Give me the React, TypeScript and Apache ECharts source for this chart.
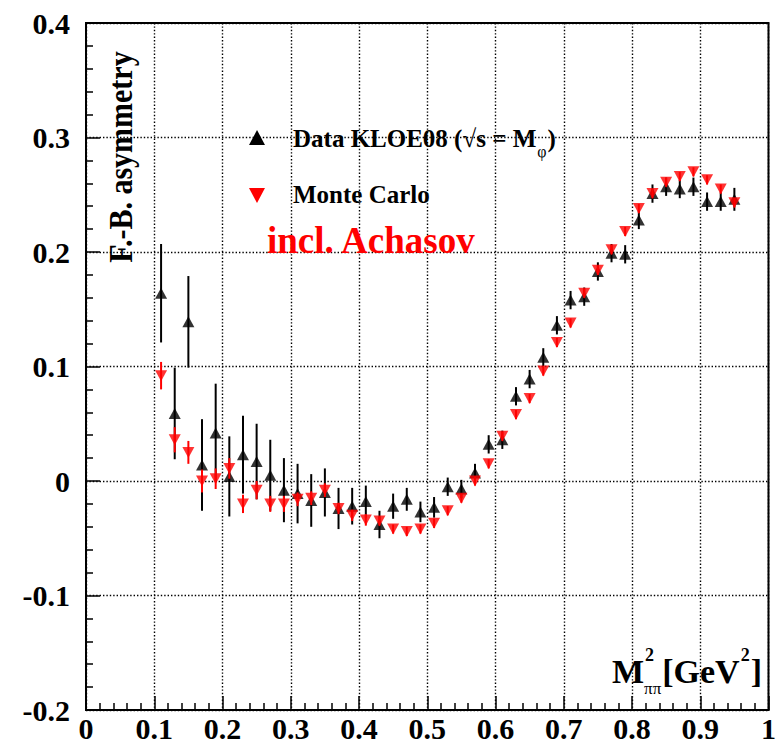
import React, { useEffect, useRef } from "react";
import * as echarts from "echarts";

const xValues = [
  0.11, 0.13, 0.15, 0.17, 0.19, 0.21, 0.23, 0.25, 0.27, 0.29, 0.31, 0.33, 0.35, 0.37, 0.39,
  0.41, 0.43, 0.45, 0.47, 0.49, 0.51, 0.53, 0.55, 0.57, 0.59, 0.61, 0.63, 0.65, 0.67, 0.69,
  0.71, 0.73, 0.75, 0.77, 0.79, 0.81, 0.83, 0.85, 0.87, 0.89, 0.91, 0.93, 0.95,
];

const dataValues = [
  0.164, 0.059, 0.139, 0.014, 0.042, 0.004, 0.023, 0.017, 0.005, -0.008, -0.011, -0.017, -0.010, -0.024, -0.022,
  -0.018, -0.038, -0.022, -0.016, -0.027, -0.023, -0.005, -0.007, 0.007, 0.032, 0.036, 0.074, 0.089, 0.108, 0.136,
  0.158, 0.161, 0.183, 0.199, 0.198, 0.228, 0.251, 0.257, 0.255, 0.257, 0.244, 0.244, 0.246,
];

const dataErrors = [
  0.043, 0.040, 0.040, 0.040, 0.043, 0.035, 0.034, 0.033, 0.031, 0.028, 0.026, 0.023, 0.021, 0.018, 0.016,
  0.014, 0.012, 0.011, 0.010, 0.009, 0.009, 0.008, 0.008, 0.008, 0.008, 0.008, 0.008, 0.008, 0.008, 0.008,
  0.008, 0.008, 0.008, 0.008, 0.008, 0.008, 0.008, 0.008, 0.008, 0.008, 0.008, 0.008, 0.010,
];

const mcValues = [
  0.092, 0.036, 0.025, 0.000, 0.002, 0.011, -0.020, -0.008, -0.020, -0.020, -0.016, -0.015, -0.008, -0.024, -0.030,
  -0.034, -0.035, -0.042, -0.044, -0.042, -0.037, -0.026, -0.015, 0.000, 0.015, 0.039, 0.058, 0.072, 0.096, 0.121,
  0.138, 0.164, 0.184, 0.202, 0.218, 0.238, 0.251, 0.261, 0.266, 0.270, 0.263, 0.255, 0.243,
];

const mcErrors = [
  0.012, 0.011, 0.010, 0.010, 0.009, 0.009, 0.008, 0.008, 0.007, 0.007, 0.006, 0.006, 0.006, 0.005, 0.005,
  0.005, 0.004, 0.004, 0.004, 0.004, 0.004, 0.004, 0.004, 0.004, 0.004, 0.004, 0.004, 0.004, 0.004, 0.004,
  0.004, 0.004, 0.004, 0.004, 0.004, 0.004, 0.004, 0.004, 0.004, 0.004, 0.004, 0.004, 0.004,
];

const xTickLabels = ["0", "0.1", "0.2", "0.3", "0.4", "0.5", "0.6", "0.7", "0.8", "0.9", "1"];
const yTickLabels = ["-0.2", "-0.1", "0", "0.1", "0.2", "0.3", "0.4"];

const FAMILY = "Liberation Serif";

function measure(text: string, size: number, weight = "bold") {
  const c = document.createElement("canvas").getContext("2d");
  if (!c) return text.length * size * 0.5;
  c.font = `${weight} ${size}px "${FAMILY}", serif`;
  return c.measureText(text).width;
}

function errorBarSeries(values: number[], errors: number[], color: string, z: number) {
  return {
    type: "custom",
    z,
    data: xValues.map((x, i) => [x, values[i], errors[i]]),
    renderItem: (params: any, api: any) => {
      const x = api.value(0);
      const y = api.value(1);
      const e = api.value(2);
      const p1 = api.coord([x, y + e]);
      const p2 = api.coord([x, y - e]);
      return {
        type: "line",
        shape: { x1: p1[0], y1: p1[1], x2: p2[0], y2: p2[1] },
        style: { stroke: color, lineWidth: 2 },
      };
    },
  };
}

function txt(
  text: string,
  x: number,
  y: number,
  size: number,
  color = "#000",
  weight = "bold",
  extra: any = {}
) {
  return {
    type: "text",
    x,
    y,
    z: 10,
    ...extra,
    style: {
      text,
      fontFamily: FAMILY,
      fontSize: size,
      fontWeight: weight,
      fill: color,
      align: "left",
      verticalAlign: "middle",
    },
  };
}

export default function App() {
  const ref = useRef<HTMLDivElement>(null);
  useEffect(() => {
    if (!ref.current) return;
    const chart = echarts.init(ref.current, undefined, { renderer: "svg" });

    const legendText1 = "Data KLOE08 (\u221As = M";
    const lt1w = measure(legendText1, 25);
    const phiW = measure("\u03c6", 16, "normal");

    const tx = 612;
    const mW = measure("M", 34);
    const subW = measure("\u03c0\u03c0", 17, "normal");
    const gevX = tx + mW + subW + 1;
    const gevW = measure("[GeV", 34);
    const sup2W = measure("2", 18);

    const axisLabelStyle = {
      color: "#000",
      fontFamily: FAMILY,
      fontWeight: "bold" as const,
      fontSize: 30,
    };
    const gridLine = { show: true, lineStyle: { color: "#000", width: 1.4, type: [1.4, 2] as any } };

    chart.setOption({
      animation: false,
      backgroundColor: "#fff",
      grid: {
        left: 86,
        right: 6,
        top: 23,
        bottom: 33,
        show: true,
        borderColor: "#000",
        borderWidth: 2,
        backgroundColor: "transparent",
      },
      xAxis: {
        type: "value",
        min: 0,
        max: 1,
        interval: 0.1,
        axisLine: { show: true, onZero: false, lineStyle: { color: "#000", width: 2 } },
        axisTick: { show: true, inside: true, length: 14, lineStyle: { color: "#000", width: 1.5 } },
        minorTick: { show: true, splitNumber: 5, length: 7, lineStyle: { color: "#000", width: 1.5 } },
        splitLine: gridLine,
        axisLabel: {
          ...axisLabelStyle,
          margin: 3,
          formatter: (v: number) => xTickLabels[Math.round(v * 10)],
        },
      },
      yAxis: {
        type: "value",
        min: -0.2,
        max: 0.4,
        interval: 0.1,
        axisLine: { show: true, onZero: false, lineStyle: { color: "#000", width: 2 } },
        axisTick: { show: true, inside: true, length: 14, lineStyle: { color: "#000", width: 1.5 } },
        minorTick: { show: true, splitNumber: 5, length: 7, lineStyle: { color: "#000", width: 1.5 } },
        splitLine: gridLine,
        axisLabel: {
          ...axisLabelStyle,
          margin: 16,
          formatter: (v: number) => yTickLabels[Math.round(v * 10) + 2],
        },
      },
      series: [
        errorBarSeries(dataValues, dataErrors, "#000", 2),
        {
          type: "scatter",
          name: "Data KLOE08",
          z: 3,
          symbol: "triangle",
          symbolSize: [12, 11],
          itemStyle: { color: "#000" },
          data: xValues.map((x, i) => [x, dataValues[i]]),
        },
        errorBarSeries(mcValues, mcErrors, "#ff0000", 4),
        {
          type: "scatter",
          name: "Monte Carlo",
          z: 5,
          symbol: "triangle",
          symbolRotate: 180,
          symbolSize: [12, 11],
          itemStyle: { color: "#ff0000" },
          data: xValues.map((x, i) => [x, mcValues[i]]),
        },
      ],
      graphic: [
        {
          type: "text",
          x: 121,
          y: 157,
          rotation: Math.PI / 2,
          scaleY: 1.12,
          z: 10,
          style: {
            text: "F.-B. asymmetry",
            fontFamily: FAMILY,
            fontSize: 30,
            fontWeight: "bold",
            fill: "#000",
            align: "center",
            verticalAlign: "middle",
          },
        },
        {
          type: "polygon",
          z: 10,
          shape: { points: [[257, 130], [265, 145], [249, 145]] },
          style: { fill: "#000" },
        },
        txt(legendText1, 293, 138, 25),
        txt("\u03c6", 293 + lt1w + 1, 151, 16, "#000", "normal"),
        txt(")", 293 + lt1w + phiW + 2, 138, 25),
        {
          type: "polygon",
          z: 10,
          shape: { points: [[249, 188], [265, 188], [257, 203]] },
          style: { fill: "#ff0000" },
        },
        txt("Monte Carlo", 293, 194, 25),
        txt("incl. Achasov", 267, 240, 37, "#ff0000"),
        txt("M", tx, 671, 34),
        txt("2", tx + mW + 1, 655, 18),
        txt("\u03c0\u03c0", tx + mW, 688, 17, "#000", "normal"),
        txt("[GeV", gevX, 671, 34),
        txt("2", gevX + gevW + 1, 655, 18),
        txt("]", gevX + gevW + sup2W + 2, 671, 34),
      ],
    });
    return () => chart.dispose();
  }, []);
  return (
    <div
      ref={ref}
      style={{ position: "fixed", left: 0, top: 0, width: 779, height: 743, background: "#fff" }}
    />
  );
}
